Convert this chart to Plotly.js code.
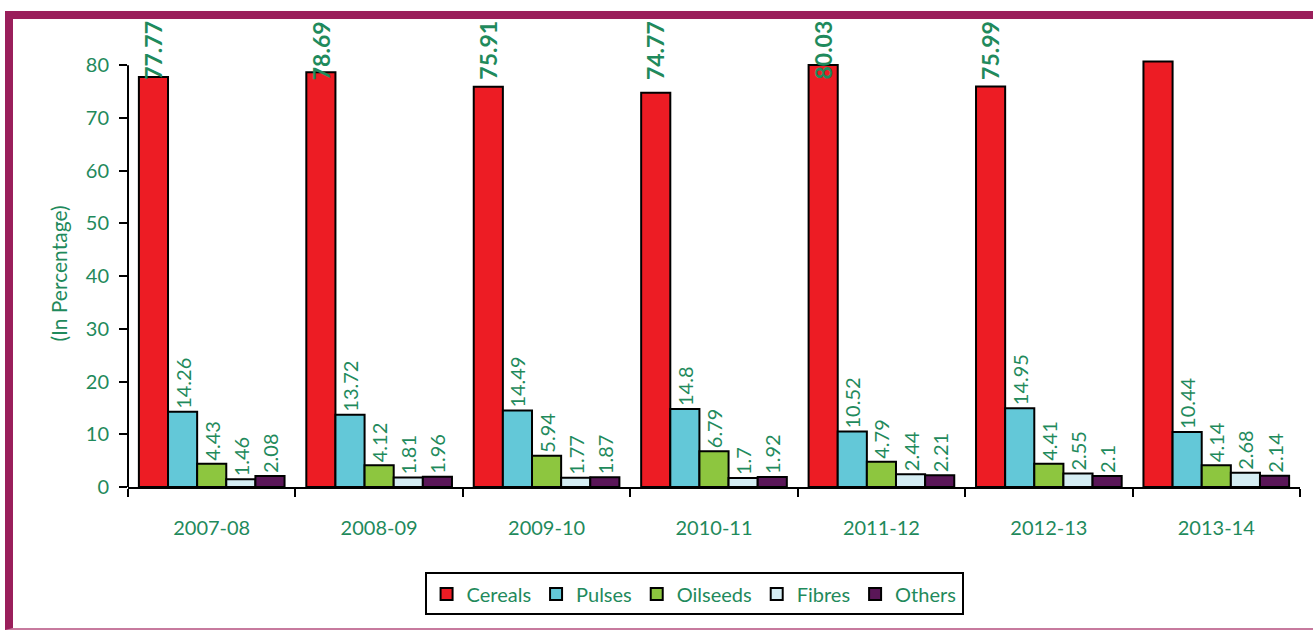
<!DOCTYPE html>
<html>
<head>
<meta charset="utf-8">
<script src="https://cdn.plot.ly/plotly-3.0.1.min.js"></script>
<style>
  html, body { margin: 0; padding: 0; background: #ffffff; }
  #wrap { position: relative; width: 1313px; height: 630px; overflow: hidden; }
  #chart { position: absolute; left: 0; top: 0; width: 1313px; height: 630px; }
  #frame { position: absolute; left: 5px; top: 11px; width: 1308px; height: 619px; box-sizing: border-box;
           border-top: 8px solid #9a1f5b; border-left: 8px solid #9a1f5b; border-bottom: 2px solid #c77a9e;
           pointer-events: none; }
</style>
</head>
<body>
<div id="wrap">
  <div id="chart"></div>
  <div id="frame"></div>
</div>
<script>
const years = ["2007-08", "2008-09", "2009-10", "2010-11", "2011-12", "2012-13", "2013-14"];
const cereals  = [77.77, 78.69, 75.91, 74.77, 80.03, 75.99, 80.7];
const cerealLabels = ["77.77", "78.69", "75.91", "74.77", "80.03", "75.99", ""];
const pulses   = [14.26, 13.72, 14.49, 14.8, 10.52, 14.95, 10.44];
const oilseeds = [4.43, 4.12, 5.94, 6.79, 4.79, 4.41, 4.14];
const fibres   = [1.46, 1.81, 1.77, 1.7, 2.44, 2.55, 2.68];
const others   = [2.08, 1.96, 1.87, 1.92, 2.21, 2.1, 2.14];
const yTicks   = [0, 10, 20, 30, 40, 50, 60, 70, 80];

const GREEN = '#1f8a5c';
const FONT = 'Lato, "Open Sans", sans-serif';
const BARGAP = 0.13;
const NSERIES = 5;

function bar(name, vals, color, showText) {
  return {
    type: 'bar', name: name, x: years, y: vals,
    text: showText ? vals.map(v => String(v)) : undefined,
    textposition: showText ? 'outside' : 'none', textangle: -90, cliponaxis: false, constraintext: 'none',
    textfont: { family: FONT, size: 20, color: GREEN },
    marker: { color: color, line: { color: '#000000', width: 2 } },
    hoverinfo: 'skip'
  };
}

const data = [
  bar('Cereals', cereals, '#ed1c24', false),
  bar('Pulses', pulses, '#63c8d8', true),
  bar('Oilseeds', oilseeds, '#8dc63f', true),
  bar('Fibres', fibres, '#d5edf3', true),
  bar('Others', others, '#5a1658', true)
];

// Cereal labels: pinned at the top of the plot area, over the first bar of each group
const groupW = 1 - BARGAP;
const firstBarOffset = -groupW / 2 + groupW / (2 * NSERIES);
const annotations = cerealLabels.map((t, i) => ({
  xref: 'x', yref: 'paper', x: i + firstBarOffset, y: 1.094, yanchor: 'top', xanchor: 'center',
  text: t, textangle: -90, showarrow: false, borderpad: 0,
  font: { family: FONT, size: 23, color: GREEN, weight: 'bold' }
})).filter(a => a.text !== '');

const layout = {
  width: 1313, height: 630,
  margin: { l: 128, r: 13, t: 60, b: 143 },
  paper_bgcolor: 'rgba(0,0,0,0)', plot_bgcolor: 'rgba(0,0,0,0)',
  barmode: 'group', bargap: BARGAP, bargroupgap: 0,
  font: { family: FONT, size: 20, color: GREEN },
  showlegend: true,
  legend: {
    orientation: 'h', x: 0.483, xanchor: 'center', y: -0.2, yanchor: 'top',
    bordercolor: '#000000', borderwidth: 2, bgcolor: '#ffffff',
    font: { family: FONT, size: 20, color: GREEN },
    itemwidth: 30, traceorder: 'normal'
  },
  xaxis: {
    type: 'category', showline: true, linecolor: '#000000', linewidth: 2,
    ticks: 'outside', tickson: 'boundaries', ticklen: 8, tickwidth: 2, tickcolor: '#000000',
    ticklabelstandoff: 22, showgrid: false, zeroline: false, fixedrange: true,
    tickfont: { family: FONT, size: 20, color: GREEN }
  },
  yaxis: {
    range: [0, 81], tickmode: 'array', tickvals: yTicks, ticktext: yTicks.map(String),
    showline: false, ticks: 'outside', ticklen: 8, tickwidth: 2, tickcolor: '#000000',
    ticklabelstandoff: 6, showgrid: false, zeroline: false, fixedrange: true,
    tickfont: { family: FONT, size: 20, color: GREEN },
    title: { text: '(In Percentage)', standoff: 12, font: { family: FONT, size: 21, color: GREEN } },
    automargin: false
  },
  annotations: annotations,
  shapes: [
    { type: 'line', xref: 'paper', yref: 'y', x0: 0, x1: 0, y0: 0, y1: yTicks[yTicks.length - 1],
      line: { color: '#000000', width: 2 }, layer: 'above' }
  ]
};

Plotly.newPlot('chart', data, layout, { displayModeBar: false, staticPlot: true });
</script>
</body>
</html>
